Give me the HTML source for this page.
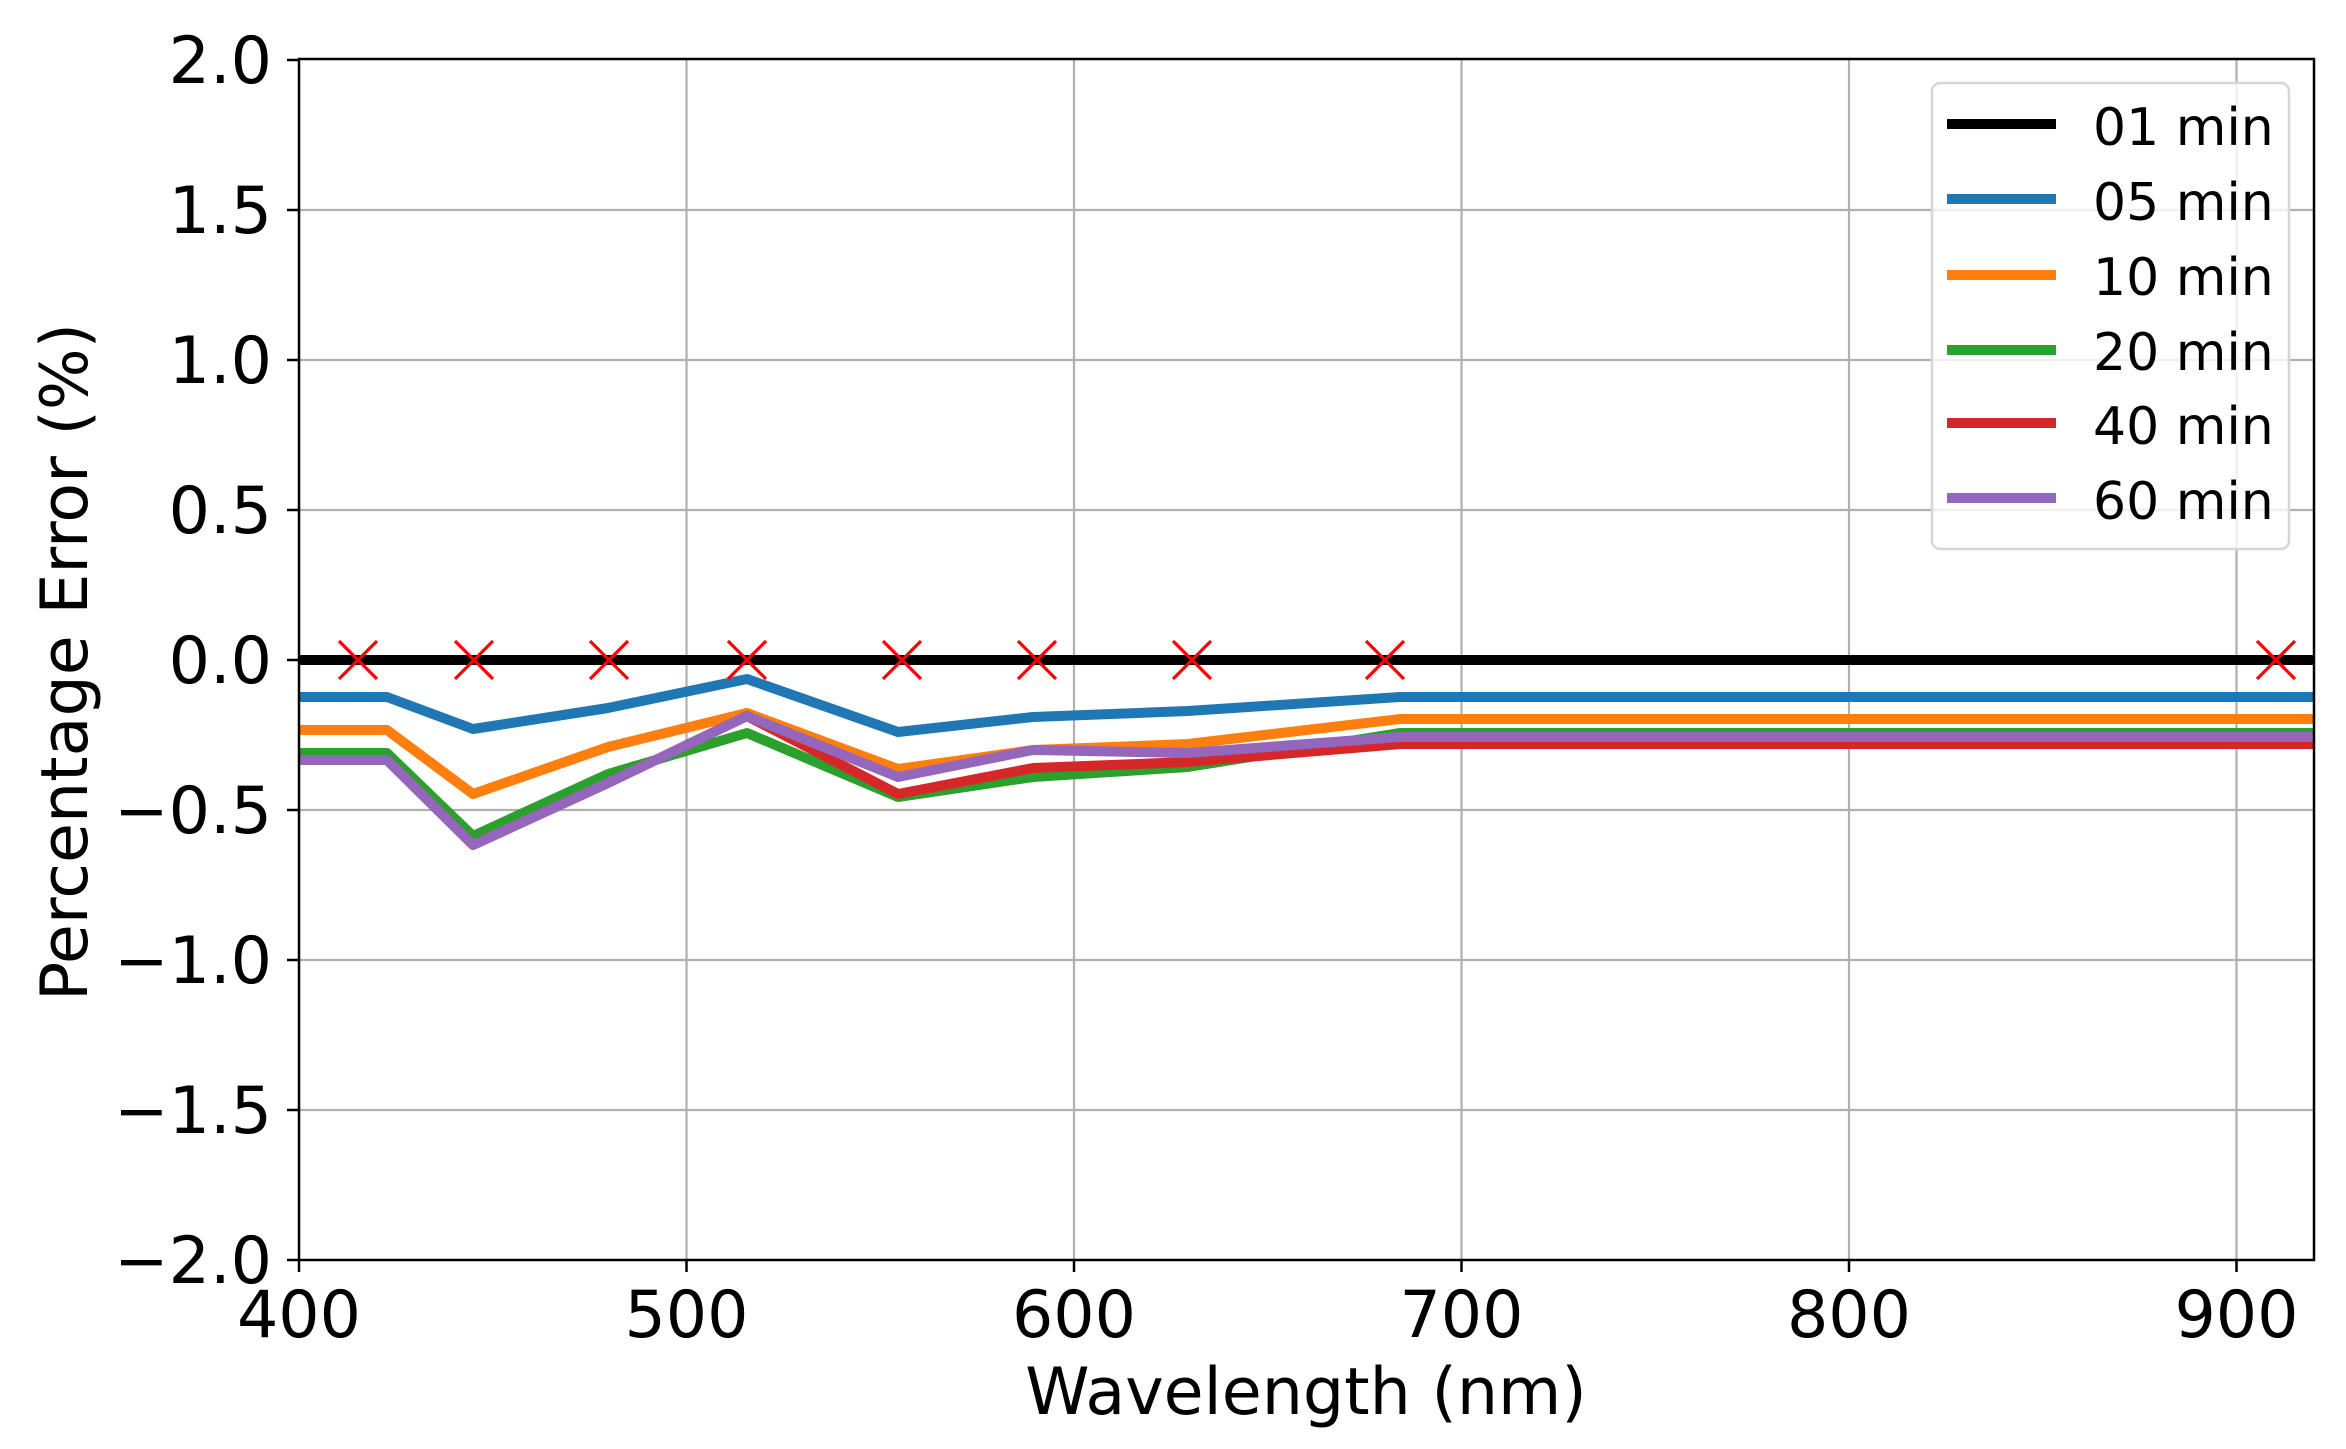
<!DOCTYPE html>
<html><head><meta charset="utf-8"><style>
html,body{margin:0;padding:0;background:#fff;}
svg{display:block;font-family:"DejaVu Sans","Liberation Sans",sans-serif;}
</style></head><body>
<svg width="2346" height="1449" viewBox="0 0 2346 1449" xmlns="http://www.w3.org/2000/svg">
<rect width="2346" height="1449" fill="#fff"/>
<defs><clipPath id="c"><rect x="299" y="59" width="2015" height="1201"/></clipPath></defs>
<g stroke="#b0b0b0" stroke-width="2.2">
<line x1="686.5" y1="59" x2="686.5" y2="1260"/>
<line x1="1074" y1="59" x2="1074" y2="1260"/>
<line x1="1461.5" y1="59" x2="1461.5" y2="1260"/>
<line x1="1849" y1="59" x2="1849" y2="1260"/>
<line x1="2236.5" y1="59" x2="2236.5" y2="1260"/>
<line x1="299" y1="210" x2="2314" y2="210"/>
<line x1="299" y1="360" x2="2314" y2="360"/>
<line x1="299" y1="510" x2="2314" y2="510"/>
<line x1="299" y1="810" x2="2314" y2="810"/>
<line x1="299" y1="960" x2="2314" y2="960"/>
<line x1="299" y1="1110" x2="2314" y2="1110"/>
</g>
<g clip-path="url(#c)" fill="none" stroke-width="10" stroke-linejoin="round">
<polyline stroke="#000" points="299,660 2314,660"/>
<polyline stroke="#1f77b4" points="290,697 387,697 473,729 608,708 747,679 898,732 1033,717 1188,711 1400,697 2320,697"/>
<polyline stroke="#ff7f0e" points="290,730 387,730 473,794 608,747 747,713 898,769 1033,750 1188,744 1400,719 2320,719"/>
<polyline stroke="#2ca02c" points="290,753 387,753 473,836 608,774 747,733 898,797 1033,777 1188,767 1400,733 2320,733"/>
<polyline stroke="#d62728" points="290,760 387,760 473,845 608,783 747,716 898,794 1033,768 1188,762 1400,744 2320,744"/>
<polyline stroke="#9467bd" points="290,760 387,760 473,845 608,783 747,716 898,777 1033,750 1188,753 1400,737 2320,737"/>
</g>
<g stroke="#ff0000" stroke-width="3.2">
<path d="M339,641l38,38M377,641l-38,38"/>
<path d="M455,641l38,38M493,641l-38,38"/>
<path d="M590,641l38,38M628,641l-38,38"/>
<path d="M728,641l38,38M766,641l-38,38"/>
<path d="M883,641l38,38M921,641l-38,38"/>
<path d="M1018,641l38,38M1056,641l-38,38"/>
<path d="M1173,641l38,38M1211,641l-38,38"/>
<path d="M1366,641l38,38M1404,641l-38,38"/>
<path d="M2257,641l38,38M2295,641l-38,38"/>
</g>
<rect x="299" y="59" width="2015" height="1201" fill="none" stroke="#000" stroke-width="2.5"/>
<g stroke="#000" stroke-width="2.5">
<line x1="299" y1="1260" x2="299" y2="1272"/><line x1="686.5" y1="1260" x2="686.5" y2="1272"/>
<line x1="1074" y1="1260" x2="1074" y2="1272"/><line x1="1461.5" y1="1260" x2="1461.5" y2="1272"/>
<line x1="1849" y1="1260" x2="1849" y2="1272"/><line x1="2236.5" y1="1260" x2="2236.5" y2="1272"/>
<line x1="287" y1="60" x2="299" y2="60"/><line x1="287" y1="210" x2="299" y2="210"/>
<line x1="287" y1="360" x2="299" y2="360"/><line x1="287" y1="510" x2="299" y2="510"/>
<line x1="287" y1="660" x2="299" y2="660"/><line x1="287" y1="810" x2="299" y2="810"/>
<line x1="287" y1="960" x2="299" y2="960"/><line x1="287" y1="1110" x2="299" y2="1110"/>
<line x1="287" y1="1260" x2="299" y2="1260"/>
</g>
<g font-size="65" fill="#000" text-anchor="end">
<text x="272" y="83">2.0</text><text x="272" y="233">1.5</text>
<text x="272" y="383">1.0</text><text x="272" y="533">0.5</text>
<text x="272" y="683">0.0</text><text x="272" y="833">−0.5</text>
<text x="272" y="983">−1.0</text><text x="272" y="1133">−1.5</text>
<text x="272" y="1283">−2.0</text>
</g>
<g font-size="65" fill="#000" text-anchor="middle">
<text x="299" y="1337">400</text><text x="686.5" y="1337">500</text>
<text x="1074" y="1337">600</text><text x="1461.5" y="1337">700</text>
<text x="1849" y="1337">800</text><text x="2236.5" y="1337">900</text>
<text x="1306" y="1414">Wavelength (nm)</text>
<text transform="translate(87,662) rotate(-90)">Percentage Error (%)</text>
</g>
<rect x="1932" y="83" width="357" height="466" rx="8" fill="#fff" fill-opacity="0.8" stroke="#d6d6d6" stroke-width="2.5"/>
<g stroke-width="10">
<line x1="1947" y1="124" x2="2056" y2="124" stroke="#000"/>
<line x1="1947" y1="199" x2="2056" y2="199" stroke="#1f77b4"/>
<line x1="1947" y1="275" x2="2056" y2="275" stroke="#ff7f0e"/>
<line x1="1947" y1="350" x2="2056" y2="350" stroke="#2ca02c"/>
<line x1="1947" y1="423" x2="2056" y2="423" stroke="#d62728"/>
<line x1="1947" y1="498" x2="2056" y2="498" stroke="#9467bd"/>
</g>
<g font-size="52" fill="#000">
<text x="2093" y="145">01 min</text>
<text x="2093" y="220">05 min</text>
<text x="2093" y="295">10 min</text>
<text x="2093" y="370">20 min</text>
<text x="2093" y="444">40 min</text>
<text x="2093" y="519">60 min</text>
</g>
</svg>
</body></html>
